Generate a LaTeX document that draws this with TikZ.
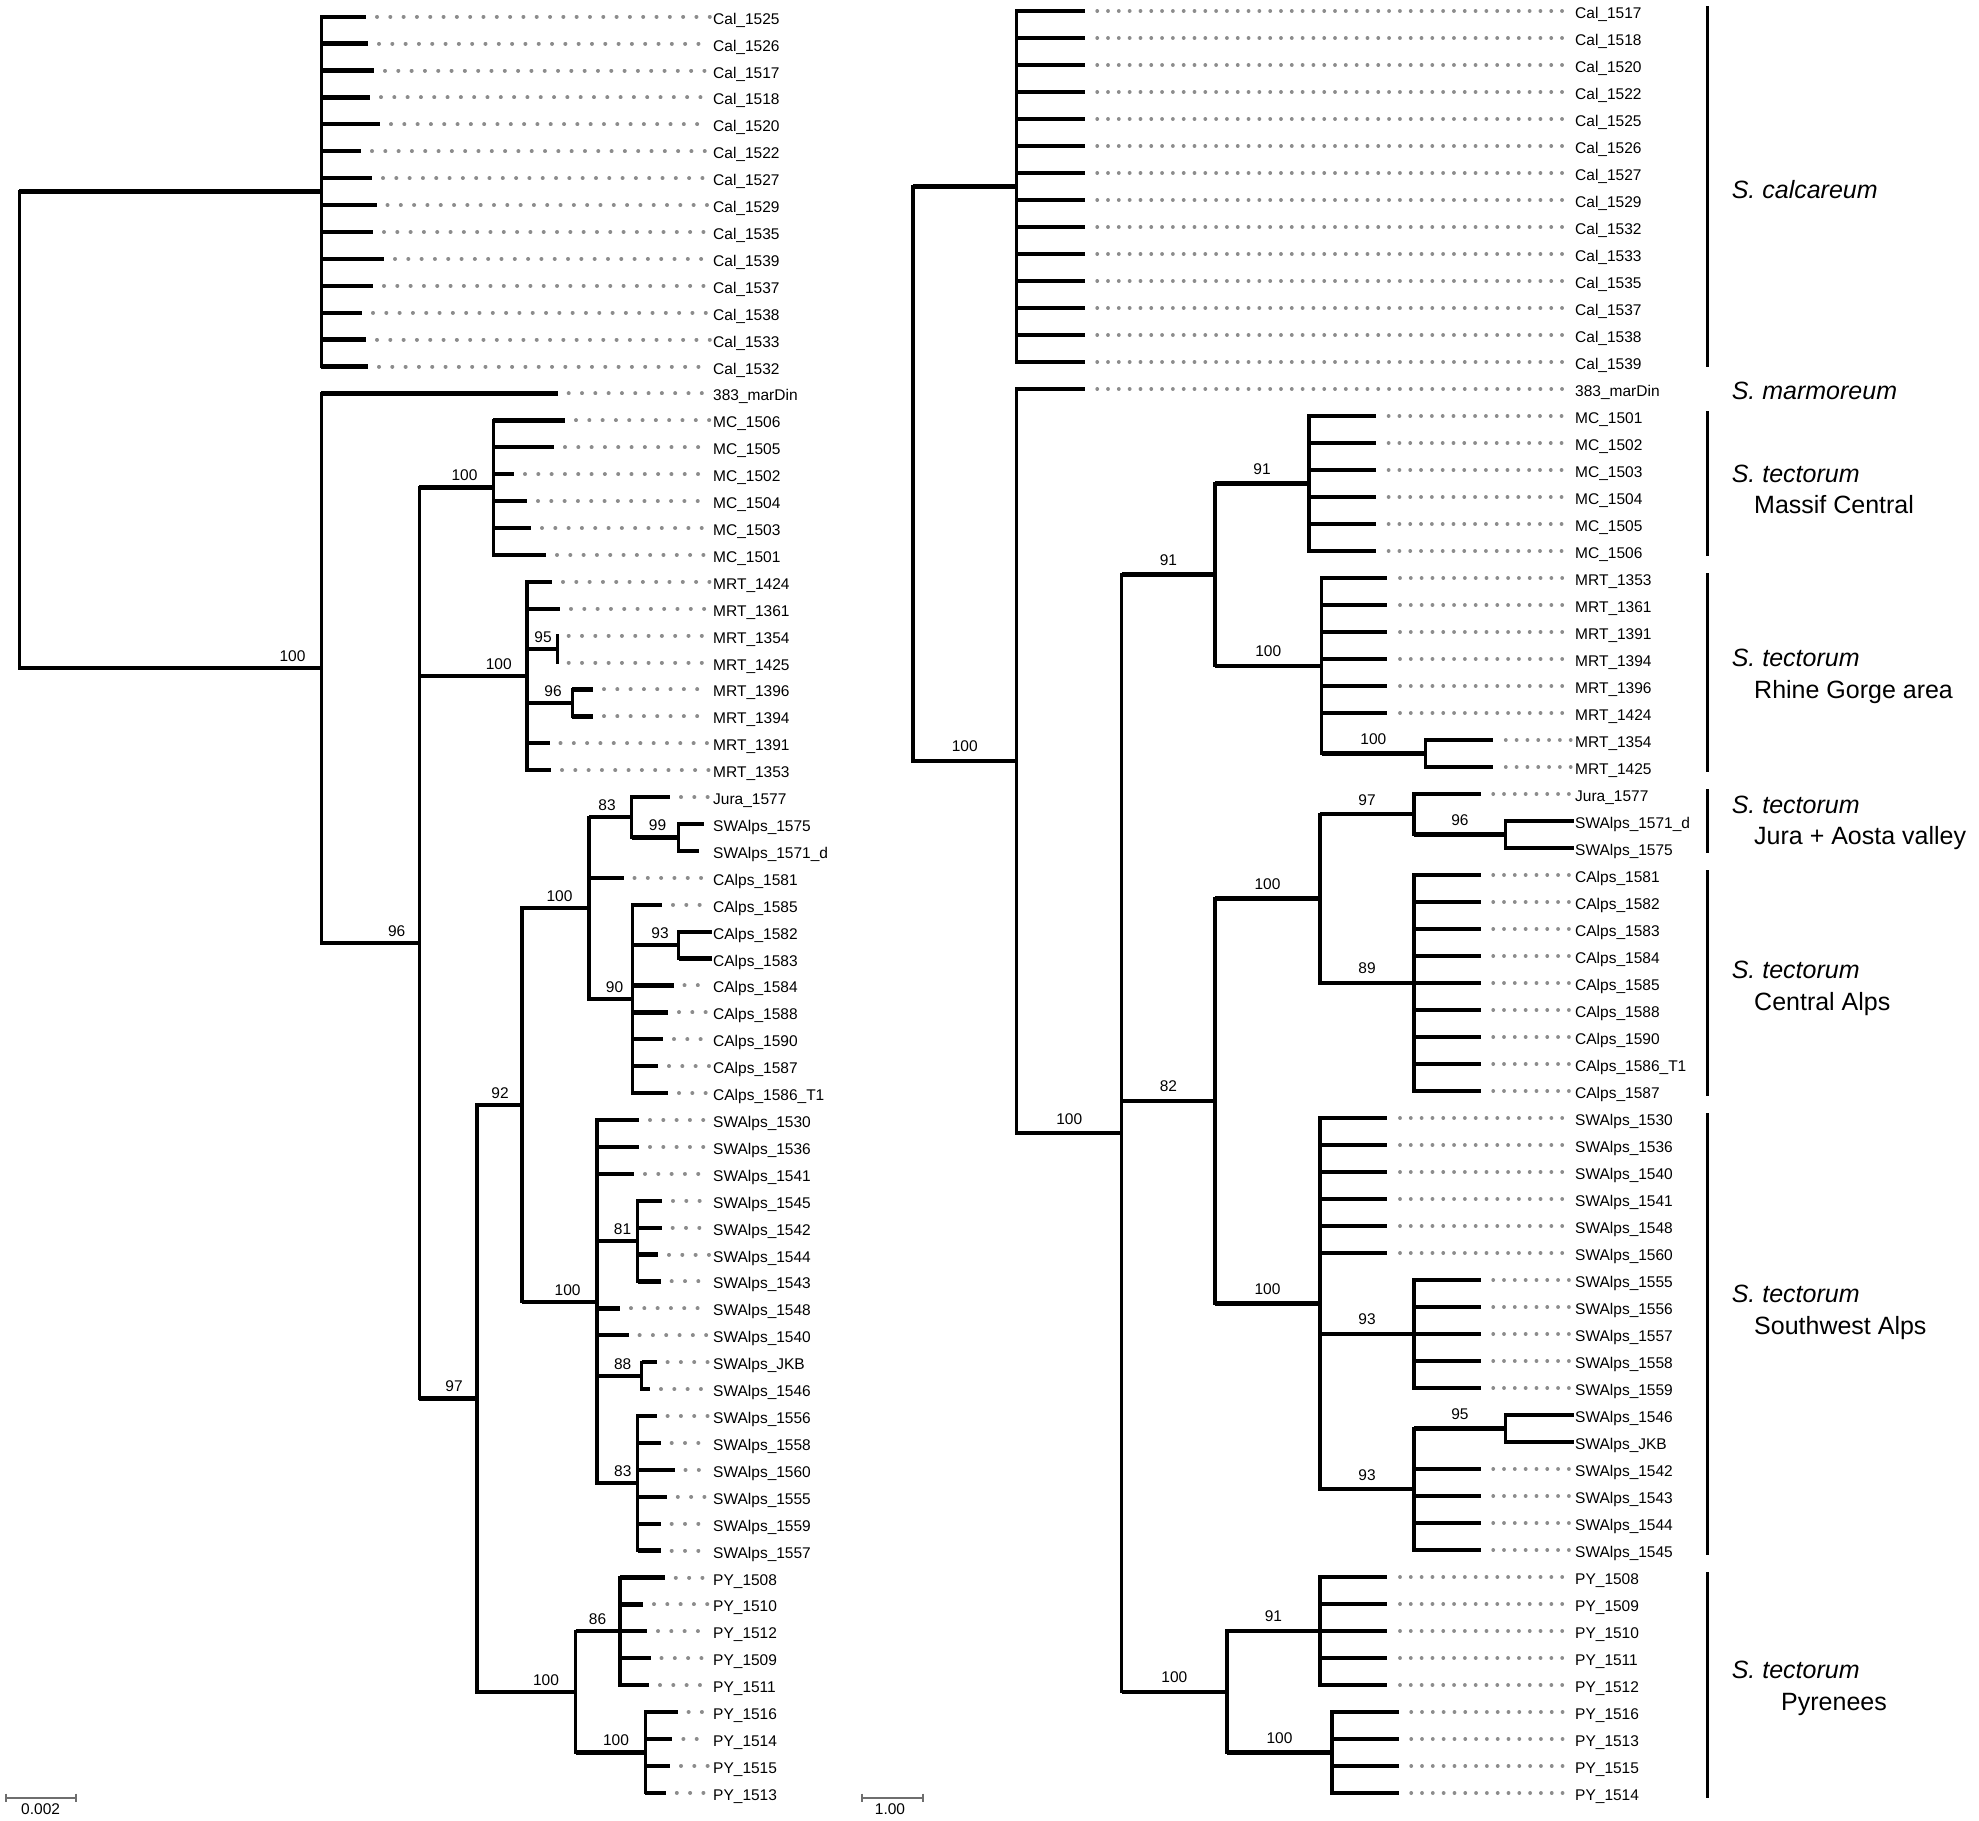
\documentclass[tikz,border=0pt]{standalone}
\usepackage{fontspec}
\setmainfont{Liberation Sans}
\definecolor{dotgray}{HTML}{8C8C8C}
\definecolor{bargray}{HTML}{6E6E6E}
\tikzset{
  vb/.style={line width=3.3pt, line cap=rect},
  hb/.style={line width=4.3pt},
  dotl/.style={draw=dotgray, line width=4pt, line cap=round, dash pattern=on 0.01pt off 13.3pt},
  dotr/.style={draw=dotgray, line width=3.8pt, line cap=round, dash pattern=on 0.01pt off 10.8pt},
  leaflab/.style={anchor=base west, inner sep=0pt, font=\fontsize{15.5}{16}\selectfont},
  supl/.style={inner sep=0pt, yshift=12pt, font=\fontsize{15.5}{16}\selectfont},
  supr/.style={inner sep=0pt, yshift=14.5pt, font=\fontsize{15.5}{16}\selectfont},
  gbar/.style={line width=3pt},
  glab/.style={anchor=base west, inner sep=0pt, font=\fontsize{25}{26}\selectfont},
  sbar/.style={draw=bargray, line width=2pt},
  sbarlab/.style={inner sep=0pt, font=\fontsize{15.5}{16}\selectfont},
}
\newcommand\treeedge[2]{\draw[vb] (#1) -- (#1 |- #2);\draw[hb] (#1 |- #2) -- (#2);}
\newcommand\leafL[4]{%
  \pgfmathsetmacro\yy{16.7+26.91*#1}%
  \coordinate (L#1) at (#2,\yy);%
  \node[leaflab] (L#1t) at (713,{\yy+7.5}) {#3};%
  \coordinate (L#1e) at (710,\yy);%
  \ifnum#4=1 \draw[dotl] ([xshift=11pt]L#1) -- (L#1e);\fi}
\newcommand\leafR[4]{%
  \pgfmathsetmacro\yy{11+27*#1}%
  \coordinate (R#1) at (#2,\yy);%
  \node[leaflab] (R#1t) at (1575,{\yy+7.5}) {#3};%
  \coordinate (R#1e) at (1572,\yy);%
  \ifnum#4=1 \draw[dotr] ([xshift=12.6pt]R#1) -- (R#1e);\fi}
\newcommand\supR[3]{\path (#1 |- #2) -- node[supr] (s#2) {#3} (#2);}
\newcommand\supL[4]{\node[supl] (s#1) at (#2,#3) {#4};}
\begin{document}
\begin{tikzpicture}[x=1pt,y=-1pt]
\useasboundingbox (0,0) rectangle (1979,1821);

% ================= LEFT TREE =================
\leafL{0}{366}{Cal\_1525}{1}
\leafL{1}{368}{Cal\_1526}{1}
\leafL{2}{374}{Cal\_1517}{1}
\leafL{3}{370}{Cal\_1518}{1}
\leafL{4}{380}{Cal\_1520}{1}
\leafL{5}{361}{Cal\_1522}{1}
\leafL{6}{372}{Cal\_1527}{1}
\leafL{7}{376.5}{Cal\_1529}{1}
\leafL{8}{373}{Cal\_1535}{1}
\leafL{9}{384}{Cal\_1539}{1}
\leafL{10}{373}{Cal\_1537}{1}
\leafL{11}{362}{Cal\_1538}{1}
\leafL{12}{366}{Cal\_1533}{1}
\leafL{13}{368}{Cal\_1532}{1}
\leafL{14}{557.7}{383\_marDin}{1}
\leafL{15}{565}{MC\_1506}{1}
\leafL{16}{554}{MC\_1505}{1}
\leafL{17}{514}{MC\_1502}{1}
\leafL{18}{527}{MC\_1504}{1}
\leafL{19}{531}{MC\_1503}{1}
\leafL{20}{546}{MC\_1501}{1}
\leafL{21}{552}{MRT\_1424}{1}
\leafL{22}{560}{MRT\_1361}{1}
\leafL{23}{557.7}{MRT\_1354}{1}
\leafL{24}{557.7}{MRT\_1425}{1}
\leafL{25}{593}{MRT\_1396}{1}
\leafL{26}{593}{MRT\_1394}{1}
\leafL{27}{549.5}{MRT\_1391}{1}
\leafL{28}{551}{MRT\_1353}{1}
\leafL{29}{670}{Jura\_1577}{1}
\leafL{30}{704}{SWAlps\_1575}{0}
\leafL{31}{699}{SWAlps\_1571\_d}{0}
\leafL{32}{623.5}{CAlps\_1581}{1}
\leafL{33}{662}{CAlps\_1585}{1}
\leafL{34}{711.7}{CAlps\_1582}{0}
\leafL{35}{711.7}{CAlps\_1583}{0}
\leafL{36}{673.5}{CAlps\_1584}{1}
\leafL{37}{668}{CAlps\_1588}{1}
\leafL{38}{663}{CAlps\_1590}{1}
\leafL{39}{658}{CAlps\_1587}{1}
\leafL{40}{668}{CAlps\_1586\_T1}{1}
\leafL{41}{639}{SWAlps\_1530}{1}
\leafL{42}{639}{SWAlps\_1536}{1}
\leafL{43}{634}{SWAlps\_1541}{1}
\leafL{44}{662}{SWAlps\_1545}{1}
\leafL{45}{661.7}{SWAlps\_1542}{1}
\leafL{46}{658}{SWAlps\_1544}{1}
\leafL{47}{660.7}{SWAlps\_1543}{1}
\leafL{48}{620}{SWAlps\_1548}{1}
\leafL{49}{628.6}{SWAlps\_1540}{1}
\leafL{50}{656.6}{SWAlps\_JKB}{1}
\leafL{51}{650}{SWAlps\_1546}{1}
\leafL{52}{656.6}{SWAlps\_1556}{1}
\leafL{53}{660.7}{SWAlps\_1558}{1}
\leafL{54}{674.5}{SWAlps\_1560}{1}
\leafL{55}{666.8}{SWAlps\_1555}{1}
\leafL{56}{660.7}{SWAlps\_1559}{1}
\leafL{57}{660.7}{SWAlps\_1557}{1}
\leafL{58}{664.8}{PY\_1508}{1}
\leafL{59}{643}{PY\_1510}{1}
\leafL{60}{647}{PY\_1512}{1}
\leafL{61}{650.5}{PY\_1509}{1}
\leafL{62}{649}{PY\_1511}{1}
\leafL{63}{677.6}{PY\_1516}{1}
\leafL{64}{672.4}{PY\_1514}{1}
\leafL{65}{670}{PY\_1515}{1}
\leafL{66}{665.8}{PY\_1513}{1}

\coordinate (rootL) at (19.4,429.9);
\coordinate (CalL) at (321.4,191.6);
\coordinate (nA) at (321.4,668.2);
\coordinate (n96) at (419.4,943);
\coordinate (MCL) at (493.4,487.6);
\coordinate (MRTL) at (527,676);
\coordinate (n95L) at (557.7,649.05);
\coordinate (n96L) at (572.4,702.9);
\coordinate (n97L) at (477,1398.4);
\coordinate (n92L) at (522,1104.9);
\coordinate (n100a) at (589,908.1);
\coordinate (n83a) at (631.6,817.3);
\coordinate (n99) at (678.6,837.45);
\coordinate (n90) at (632.7,998.9);
\coordinate (n93L) at (678.6,945.1);
\coordinate (n100b) at (597,1301.65);
\coordinate (n81) at (637.8,1241.1);
\coordinate (n88) at (641.5,1375.65);
\coordinate (n83b) at (637.8,1483.3);
\coordinate (nPY) at (575.5,1691.85);
\coordinate (n86) at (620,1631.3);
\coordinate (n100c) at (645.4,1752.4);

\treeedge{rootL}{CalL}
\treeedge{rootL}{nA}
\foreach \i in {0,...,13} {\treeedge{CalL}{L\i}}
\treeedge{nA}{L14}
\treeedge{nA}{n96}
\treeedge{n96}{MCL}
\treeedge{n96}{MRTL}
\treeedge{n96}{n97L}
\foreach \i in {15,...,20} {\treeedge{MCL}{L\i}}
\treeedge{MRTL}{L21}
\treeedge{MRTL}{L22}
\treeedge{MRTL}{n95L}
\treeedge{MRTL}{n96L}
\treeedge{MRTL}{L27}
\treeedge{MRTL}{L28}
\treeedge{n95L}{L23}
\treeedge{n95L}{L24}
\treeedge{n96L}{L25}
\treeedge{n96L}{L26}
\treeedge{n97L}{n92L}
\treeedge{n97L}{nPY}
\treeedge{n92L}{n100a}
\treeedge{n92L}{n100b}
\treeedge{n100a}{n83a}
\treeedge{n100a}{L32}
\treeedge{n100a}{n90}
\treeedge{n83a}{L29}
\treeedge{n83a}{n99}
\treeedge{n99}{L30}
\treeedge{n99}{L31}
\treeedge{n90}{L33}
\treeedge{n90}{n93L}
\foreach \i in {36,...,40} {\treeedge{n90}{L\i}}
\treeedge{n93L}{L34}
\treeedge{n93L}{L35}
\foreach \i in {41,42,43,48,49} {\treeedge{n100b}{L\i}}
\treeedge{n100b}{n81}
\treeedge{n100b}{n88}
\treeedge{n100b}{n83b}
\foreach \i in {44,...,47} {\treeedge{n81}{L\i}}
\treeedge{n88}{L50}
\treeedge{n88}{L51}
\foreach \i in {52,...,57} {\treeedge{n83b}{L\i}}
\treeedge{nPY}{n86}
\treeedge{nPY}{n100c}
\foreach \i in {58,...,62} {\treeedge{n86}{L\i}}
\foreach \i in {63,...,66} {\treeedge{n100c}{L\i}}

\supL{nA}{292.5}{668.2}{100}
\supL{MCL}{464.5}{487.6}{100}
\supL{MRTL}{498.7}{676}{100}
\supL{n95L}{543}{649.05}{95}
\supL{n96L}{553}{702.9}{96}
\supL{n96}{396.7}{943}{96}
\supL{n97L}{454}{1398.4}{97}
\supL{n92L}{500}{1104.9}{92}
\supL{n100a}{559.5}{908.1}{100}
\supL{n83a}{607}{817.3}{83}
\supL{n99}{657.5}{837.45}{99}
\supL{n90}{614.5}{998.9}{90}
\supL{n93L}{660}{945.1}{93}
\supL{n100b}{567.6}{1301.65}{100}
\supL{n81}{622.5}{1241.1}{81}
\supL{n88}{622.7}{1375.65}{88}
\supL{n83b}{622.8}{1483.3}{83}
\supL{nPY}{546}{1691.85}{100}
\supL{n86}{597.5}{1631.3}{86}
\supL{n100c}{616}{1752.4}{100}

% scale bar left
\coordinate (sbL1) at (6,1797.7);
\coordinate (sbL2) at (75.5,1797.7);
\draw[sbar] (sbL1) -- (sbL2);
\draw[sbar] ([yshift=4pt]sbL1) -- ([yshift=-4pt]sbL1);
\draw[sbar] ([yshift=4pt]sbL2) -- ([yshift=-4pt]sbL2);
\node[sbarlab] (sbLt) at (40.6,1809.5) {0.002};

% ================= RIGHT TREE =================
\leafR{0}{1084.6}{Cal\_1517}{1}
\leafR{1}{1084.6}{Cal\_1518}{1}
\leafR{2}{1084.6}{Cal\_1520}{1}
\leafR{3}{1084.6}{Cal\_1522}{1}
\leafR{4}{1084.6}{Cal\_1525}{1}
\leafR{5}{1084.6}{Cal\_1526}{1}
\leafR{6}{1084.6}{Cal\_1527}{1}
\leafR{7}{1084.6}{Cal\_1529}{1}
\leafR{8}{1084.6}{Cal\_1532}{1}
\leafR{9}{1084.6}{Cal\_1533}{1}
\leafR{10}{1084.6}{Cal\_1535}{1}
\leafR{11}{1084.6}{Cal\_1537}{1}
\leafR{12}{1084.6}{Cal\_1538}{1}
\leafR{13}{1084.6}{Cal\_1539}{1}
\leafR{14}{1084.6}{383\_marDin}{1}
\leafR{15}{1376}{MC\_1501}{1}
\leafR{16}{1376}{MC\_1502}{1}
\leafR{17}{1376}{MC\_1503}{1}
\leafR{18}{1376}{MC\_1504}{1}
\leafR{19}{1376}{MC\_1505}{1}
\leafR{20}{1376}{MC\_1506}{1}
\leafR{21}{1387.4}{MRT\_1353}{1}
\leafR{22}{1387.4}{MRT\_1361}{1}
\leafR{23}{1387.4}{MRT\_1391}{1}
\leafR{24}{1387.4}{MRT\_1394}{1}
\leafR{25}{1387.4}{MRT\_1396}{1}
\leafR{26}{1387.4}{MRT\_1424}{1}
\leafR{27}{1493.2}{MRT\_1354}{1}
\leafR{28}{1493.2}{MRT\_1425}{1}
\leafR{29}{1480.6}{Jura\_1577}{1}
\leafR{30}{1573.8}{SWAlps\_1571\_d}{0}
\leafR{31}{1573.8}{SWAlps\_1575}{0}
\leafR{32}{1480.6}{CAlps\_1581}{1}
\leafR{33}{1480.6}{CAlps\_1582}{1}
\leafR{34}{1480.6}{CAlps\_1583}{1}
\leafR{35}{1480.6}{CAlps\_1584}{1}
\leafR{36}{1480.6}{CAlps\_1585}{1}
\leafR{37}{1480.6}{CAlps\_1588}{1}
\leafR{38}{1480.6}{CAlps\_1590}{1}
\leafR{39}{1480.6}{CAlps\_1586\_T1}{1}
\leafR{40}{1480.6}{CAlps\_1587}{1}
\leafR{41}{1387.4}{SWAlps\_1530}{1}
\leafR{42}{1387.4}{SWAlps\_1536}{1}
\leafR{43}{1387.4}{SWAlps\_1540}{1}
\leafR{44}{1387.4}{SWAlps\_1541}{1}
\leafR{45}{1387.4}{SWAlps\_1548}{1}
\leafR{46}{1387.4}{SWAlps\_1560}{1}
\leafR{47}{1480.6}{SWAlps\_1555}{1}
\leafR{48}{1480.6}{SWAlps\_1556}{1}
\leafR{49}{1480.6}{SWAlps\_1557}{1}
\leafR{50}{1480.6}{SWAlps\_1558}{1}
\leafR{51}{1480.6}{SWAlps\_1559}{1}
\leafR{52}{1573.8}{SWAlps\_1546}{0}
\leafR{53}{1573.8}{SWAlps\_JKB}{0}
\leafR{54}{1480.6}{SWAlps\_1542}{1}
\leafR{55}{1480.6}{SWAlps\_1543}{1}
\leafR{56}{1480.6}{SWAlps\_1544}{1}
\leafR{57}{1480.6}{SWAlps\_1545}{1}
\leafR{58}{1387.4}{PY\_1508}{1}
\leafR{59}{1387.4}{PY\_1509}{1}
\leafR{60}{1387.4}{PY\_1510}{1}
\leafR{61}{1387.4}{PY\_1511}{1}
\leafR{62}{1387.4}{PY\_1512}{1}
\leafR{63}{1398.6}{PY\_1516}{1}
\leafR{64}{1398.6}{PY\_1513}{1}
\leafR{65}{1398.6}{PY\_1515}{1}
\leafR{66}{1398.6}{PY\_1514}{1}

\coordinate (rootR) at (913,473.8);
\coordinate (CalR) at (1016.6,186.5);
\coordinate (nR100a) at (1016.6,761.1);
\coordinate (nR100b) at (1121.8,1133.2);
\coordinate (n91a) at (1215,574.6);
\coordinate (n91MC) at (1309,483.5);
\coordinate (nMRT) at (1321.5,665.75);
\coordinate (n100in) at (1425.2,753.5);
\coordinate (n82) at (1215,1101.1);
\coordinate (nJC) at (1320,898.6);
\coordinate (n97R) at (1414,814.25);
\coordinate (n96R) at (1505.8,834.5);
\coordinate (n89) at (1414,983);
\coordinate (nSW) at (1320,1303.6);
\coordinate (n93a) at (1414,1334);
\coordinate (n93b) at (1414,1489.25);
\coordinate (n95R) at (1505.8,1428.5);
\coordinate (nPYR) at (1226.9,1691.75);
\coordinate (n91PY) at (1320,1631);
\coordinate (n100PY) at (1332,1752.5);

\treeedge{rootR}{CalR}
\treeedge{rootR}{nR100a}
\foreach \i in {0,...,13} {\treeedge{CalR}{R\i}}
\treeedge{nR100a}{R14}
\treeedge{nR100a}{nR100b}
\treeedge{nR100b}{n91a}
\treeedge{nR100b}{n82}
\treeedge{nR100b}{nPYR}
\treeedge{n91a}{n91MC}
\treeedge{n91a}{nMRT}
\foreach \i in {15,...,20} {\treeedge{n91MC}{R\i}}
\foreach \i in {21,...,26} {\treeedge{nMRT}{R\i}}
\treeedge{nMRT}{n100in}
\treeedge{n100in}{R27}
\treeedge{n100in}{R28}
\treeedge{n82}{nJC}
\treeedge{n82}{nSW}
\treeedge{nJC}{n97R}
\treeedge{nJC}{n89}
\treeedge{n97R}{R29}
\treeedge{n97R}{n96R}
\treeedge{n96R}{R30}
\treeedge{n96R}{R31}
\foreach \i in {32,...,40} {\treeedge{n89}{R\i}}
\foreach \i in {41,...,46} {\treeedge{nSW}{R\i}}
\treeedge{nSW}{n93a}
\treeedge{nSW}{n93b}
\foreach \i in {47,...,51} {\treeedge{n93a}{R\i}}
\treeedge{n93b}{n95R}
\foreach \i in {54,...,57} {\treeedge{n93b}{R\i}}
\treeedge{n95R}{R52}
\treeedge{n95R}{R53}
\treeedge{nPYR}{n91PY}
\treeedge{nPYR}{n100PY}
\foreach \i in {58,...,62} {\treeedge{n91PY}{R\i}}
\foreach \i in {63,...,66} {\treeedge{n100PY}{R\i}}

\supR{rootR}{nR100a}{100}
\supR{nR100a}{nR100b}{100}
\supR{nR100b}{n91a}{91}
\supR{n91a}{n91MC}{91}
\supR{n91a}{nMRT}{100}
\supR{nMRT}{n100in}{100}
\supR{nR100b}{n82}{82}
\supR{n82}{nJC}{100}
\supR{nJC}{n97R}{97}
\supR{n97R}{n96R}{96}
\supR{nJC}{n89}{89}
\supR{n82}{nSW}{100}
\supR{nSW}{n93a}{93}
\supR{nSW}{n93b}{93}
\supR{n93b}{n95R}{95}
\supR{nR100b}{nPYR}{100}
\supR{nPYR}{n91PY}{91}
\supR{nPYR}{n100PY}{100}

% scale bar right
\coordinate (sbR1) at (862,1797.7);
\coordinate (sbR2) at (923.4,1797.7);
\draw[sbar] (sbR1) -- (sbR2);
\draw[sbar] ([yshift=4pt]sbR1) -- ([yshift=-4pt]sbR1);
\draw[sbar] ([yshift=4pt]sbR2) -- ([yshift=-4pt]sbR2);
\node[sbarlab] (sbRt) at (890,1809.5) {1.00};

% group bars
\draw[gbar] (1707,6) coordinate (b1a) -- (1707,367) coordinate (b1b);
\draw[gbar] (1707,411) coordinate (b2a) -- (1707,556) coordinate (b2b);
\draw[gbar] (1707,573) coordinate (b3a) -- (1707,772) coordinate (b3b);
\draw[gbar] (1707,789) coordinate (b4a) -- (1707,853) coordinate (b4b);
\draw[gbar] (1707,870) coordinate (b5a) -- (1707,1096) coordinate (b5b);
\draw[gbar] (1707,1113) coordinate (b6a) -- (1707,1555) coordinate (b6b);
\draw[gbar] (1707,1572) coordinate (b7a) -- (1707,1798) coordinate (b7b);

% group labels
\node[glab] (g1) at (1731.6,198.4) {\itshape S. calcareum};
\node[glab] (g2) at (1731.6,399) {\itshape S. marmoreum};
\node[glab] (g3) at (1731.6,482.4) {\itshape S. tectorum};
\node[glab] (g4) at (1754,513.9) {Massif Central};
\node[glab] (g5) at (1731.6,666.6) {\itshape S. tectorum};
\node[glab] (g6) at (1754,698.1) {Rhine Gorge area};
\node[glab] (g7) at (1731.6,813) {\itshape S. tectorum};
\node[glab] (g8) at (1754,844.6) {Jura + Aosta valley};
\node[glab] (g9) at (1731.6,978) {\itshape S. tectorum};
\node[glab] (g10) at (1754,1010) {Central Alps};
\node[glab] (g11) at (1731.6,1302.7) {\itshape S. tectorum};
\node[glab] (g12) at (1754,1334) {Southwest Alps};
\node[glab] (g13) at (1731.6,1678.7) {\itshape S. tectorum};
\node[glab] (g14) at (1781,1710) {Pyrenees};
\end{tikzpicture}
\end{document}
